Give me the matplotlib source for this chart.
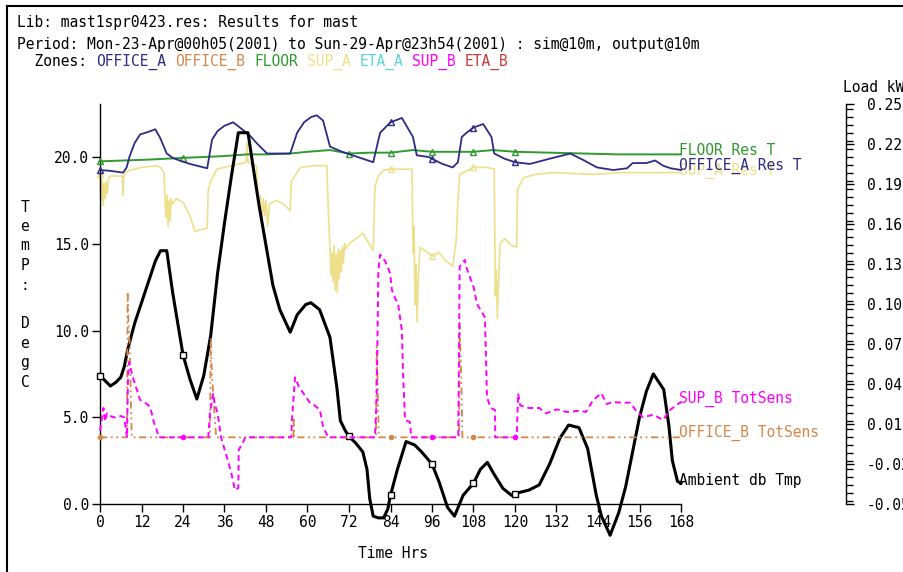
import matplotlib.pyplot as plt
from matplotlib.lines import Line2D
from matplotlib.ticker import MultipleLocator, FixedLocator

W, H = 904, 572
FS = 10.5
CH = 0.602 * FS * 100 / 72  # monospace advance in px

plt.rcParams['font.family'] = 'DejaVu Sans Mono'
plt.rcParams['font.size'] = FS

C_OFFA = '#2c2c86'
C_OFFB = '#d4874a'
C_FLOOR = '#2f9a2f'
C_SUPA = '#eee08a'
C_ETAA = '#5cd6d6'
C_SUPB = '#ff00ff'
C_ETAB = '#c83a3a'

hour_ticks = list(range(0, 169, 12))
temp_ticks = [0.0, 5.0, 10.0, 15.0, 20.0]
load_ticks = [-0.05, -0.02, 0.01, 0.04, 0.07, 0.10, 0.13, 0.16, 0.19, 0.22, 0.25]

# Ambient db temperature (DegC)
amb_t = [0, 1.5, 3, 4.5, 6, 7, 8, 10, 12, 14, 16, 17.5, 19.3, 21, 24, 26, 28, 30, 32, 34,
         36, 38, 40, 42.8, 44.3, 46, 48, 50, 52, 55, 57, 59.5, 61, 63.5, 65, 66.5, 68.5, 69.5, 71, 72,
         74, 76, 77.2, 78, 79, 80.5, 82, 83.2, 84, 86, 88.5, 91, 93, 96, 98, 100.5, 102.5, 105, 108, 110,
         112, 114, 116.5, 119, 120, 124, 127, 130, 133, 135.5, 138.5, 141, 143.5, 145, 147.5, 150, 152, 154, 156, 158,
         160, 163, 164.5, 165.5, 167, 168]
amb_v = [7.4, 7.1, 6.8, 7.0, 7.3, 7.9, 8.9, 10.4, 11.6, 12.8, 14.0, 14.6, 14.6, 12.2, 8.6, 7.2, 6.05, 7.4, 9.7, 13.3,
         16.2, 18.9, 21.4, 21.4, 19.4, 17.2, 14.9, 12.6, 11.2, 9.9, 10.9, 11.5, 11.6, 11.2, 10.4, 9.6, 6.7, 4.8, 4.2, 3.9,
         3.5, 3.0, 2.0, 0.3, -0.7, -0.8, -0.8, -0.3, 0.5, 2.0, 3.6, 3.4, 3.0, 2.3, 1.3, -0.2, -0.7, 0.5, 1.2, 2.0,
         2.4, 1.7, 0.9, 0.5, 0.6, 0.8, 1.1, 2.3, 3.8, 4.55, 4.4, 3.2, 0.5, -0.7, -1.8, -0.5, 1.0, 3.0, 5.0, 6.5,
         7.5, 6.6, 4.5, 2.5, 1.3, 1.2]
amb_marks = [0, 24, 72, 84, 96, 108, 120]

# OFFICE_A resultant temperature
offa_t = [0, 3, 6.7, 7.7, 8.5, 10, 11.6, 14, 16, 17.4, 19.3, 21, 23, 26, 29, 31, 32.4, 34, 36, 38.5,
          41.4, 43.5, 45.3, 48.3, 52, 55, 57, 59, 61, 62.7, 64.5, 66.5, 70, 73, 76, 79, 81, 84, 87.3, 90.5,
          91.6, 95, 96, 99, 102, 103.5, 104.6, 106, 108, 110.8, 113.2, 114, 117, 120, 124.3, 130, 136, 140, 143.7, 148.4,
          152.4, 154, 158, 160.5, 162.8, 165, 168]
offa_v = [19.25, 19.2, 19.1, 19.4, 20.0, 20.8, 21.3, 21.45, 21.6, 21.1, 20.2, 19.95, 19.8, 19.6, 19.45, 19.35, 21.0, 21.5, 21.8, 22.0,
          21.55, 21.2, 20.8, 20.2, 20.2, 20.2, 21.4, 22.0, 22.3, 22.4, 22.1, 20.6, 20.3, 20.1, 19.9, 19.7, 21.4, 22.0, 22.25, 21.15,
          20.1, 20.0, 19.9, 19.6, 19.4, 19.7, 21.15, 21.4, 21.7, 21.9, 21.15, 20.2, 19.9, 19.7, 19.6, 19.9, 20.2, 19.8, 19.4, 19.25,
          19.35, 19.65, 19.65, 19.8, 19.5, 19.35, 19.25]
offa_marks = [0, 84, 96, 108, 120]

# FLOOR resultant temperature
floor_t = [0, 7, 14, 24, 30, 35.6, 42.5, 48, 55, 60, 66.5, 72, 78, 84, 90.5, 96, 102, 108, 113.6, 120,
           130, 140, 150, 160, 168]
floor_v = [19.75, 19.8, 19.85, 19.95, 20.0, 20.05, 20.15, 20.15, 20.2, 20.3, 20.4, 20.2, 20.25, 20.25, 20.4, 20.3, 20.3, 20.3, 20.4, 20.3,
           20.25, 20.2, 20.15, 20.15, 20.15]
floor_marks = [0, 24, 72, 84, 96, 108, 120]

# SUP_A resultant temperature
supa_t = [0, 0.3, 0.6, 0.9, 1.2, 1.5, 1.8, 2.1, 2.5, 3, 6.5, 6.7, 6.9, 7.3, 8, 12, 16.5, 17.5, 18.5, 18.8,
          19.1, 19.4, 19.7, 20.0, 20.3, 20.6, 21, 22, 24, 26, 27.5, 29, 31, 31.3, 32, 33.8, 38, 41.4, 42.2, 42.5,
          42.8, 45.2, 45.6, 46, 46.4, 46.8, 47.2, 47.6, 48, 48.5, 49, 51, 53, 55, 55.3, 56, 58, 62, 65.6, 66,
          66.5, 66.8, 67.1, 67.4, 67.7, 68, 68.3, 68.6, 68.9, 69.2, 69.5, 69.8, 70.1, 70.4, 70.7, 71, 72, 74, 76, 77.5,
          79, 79.5, 80.5, 82, 84, 90.2, 90.5, 90.8, 91.1, 91.4, 91.7, 92, 92.5, 94, 96, 98, 100, 102, 103, 103.5,
          104, 108, 112, 114, 114.3, 114.6, 114.9, 115.2, 115.7, 117, 119, 120.5, 120.7, 122.4, 126, 131, 142.6, 151, 160, 168]
supa_v = [19.0, 17.5, 18.7, 17.2, 18.5, 17.6, 18.6, 17.9, 18.8, 18.9, 18.9, 17.8, 18.9, 19.1, 19.2, 19.4, 19.5, 19.4, 19.1, 17.5,
          16.5, 17.8, 16.0, 17.5, 16.3, 17.6, 17.3, 17.6, 17.4, 16.6, 15.7, 15.8, 15.9, 18.1, 18.6, 19.3, 19.5, 19.65, 19.7, 20.8,
          19.7, 19.5, 18.2, 17.0, 17.8, 16.2, 17.6, 16.6, 17.5, 16.0, 17.3, 17.5, 17.3, 16.9, 18.6, 18.8, 19.4, 19.5, 19.5, 17.0,
          14.8, 13.2, 14.5, 12.8, 14.9, 12.3, 14.4, 12.2, 14.7, 13.0, 14.6, 13.4, 14.8, 13.9, 15.0, 14.7, 15.0, 15.3, 15.6, 15.1,
          14.6, 18.3, 18.9, 19.25, 19.3, 19.3, 14.5, 16.0, 11.5, 13.8, 10.5, 12.8, 14.8, 14.6, 14.3, 14.5, 14.0, 13.7, 15.2, 17.5,
          19.0, 19.4, 19.4, 19.3, 12.0, 13.5, 10.7, 12.5, 15.0, 15.3, 14.9, 14.8, 18.1, 18.8, 19.0, 19.1, 19.0, 19.1, 19.1, 19.1]
supa_marks = [0, 84, 96, 108]

# SUP_B total sensible load (kW)
supb_t = [0, 0.5, 1, 1.5, 2, 3, 4, 5, 6, 7, 7.8, 8.1, 8.4, 9.5, 11.6, 13, 14.5, 15.5, 16.4, 17,
          24, 31.3, 31.8, 32.7, 33.2, 34, 35, 36.7, 38, 39, 40, 40.1, 41.4, 42, 48, 55.3, 55.5, 56.4, 57.5, 58.8,
          60.7, 62, 63.6, 64.5, 66, 72, 79.5, 80, 80.5, 81, 82.5, 83.9, 84.4, 85.2, 86.2, 87.3, 87.6, 88.2, 89.6, 90,
          96, 103.6, 104, 105.5, 106.2, 108, 109, 111.3, 111.9, 113, 114.2, 114.3, 120, 120.5, 120.9, 121.5, 124, 127, 129, 132,
          135, 138.8, 140.5, 142.6, 145, 146.5, 148.4, 151, 153.3, 155, 157, 160, 162.8, 164.8, 167.7, 168]
supb_v = [0.005, 0.013, 0.022, 0.012, 0.018, 0.016, 0.015, 0.015, 0.016, 0.015, 0.0, 0.045, 0.0565, 0.045, 0.028, 0.026, 0.023, 0.012, 0.0055, 0.0,
          0.0, 0.0, 0.018, 0.033, 0.025, 0.018, 0.0, -0.015, -0.027, -0.0395, -0.038, -0.0095, -0.0035, 0.0, 0.0, 0.0, 0.013, 0.045, 0.038, 0.033,
          0.026, 0.024, 0.0205, 0.008, 0.0, 0.0, 0.0, 0.03, 0.1255, 0.137, 0.132, 0.123, 0.1105, 0.105, 0.1, 0.08, 0.05, 0.013, 0.0115, 0.0,
          0.0, 0.0, 0.128, 0.133, 0.1255, 0.113, 0.1, 0.09, 0.03, 0.022, 0.0205, 0.0, 0.0, 0.0, 0.033, 0.024, 0.022, 0.022, 0.018, 0.021,
          0.019, 0.02, 0.019, 0.028, 0.033, 0.025, 0.0265, 0.026, 0.026, 0.02, 0.015, 0.017, 0.013, 0.0205, 0.026, 0.026]
supb_marks = [24, 96, 120]

# OFFICE_B total sensible load (kW)
offb_t = [0, 7.8, 8.0, 8.3, 8.6, 9.0, 9.2, 31.8, 32.0, 32.3, 32.8, 33.3, 33.6, 55.9, 56.0, 56.1, 79.8, 80.0, 80.3, 80.6,
          84, 103.8, 104.0, 104.4, 104.8, 108, 168]
offb_v = [0, 0, 0.109, 0.08, 0.07, 0.02, 0, 0, 0.0745, 0.05, 0.03, 0.01, 0, 0, 0.015, 0, 0, 0.068, 0.04, 0,
          0, 0, 0.086, 0.05, 0, 0, 0]
offb_marks = [0, 84, 108]

header1 = "Lib: mast1spr0423.res: Results for mast"
header2 = "Period: Mon-23-Apr@00h05(2001) to Sun-29-Apr@23h54(2001) : sim@10m, output@10m"
zones = [("  Zones: ", 'black'), ("OFFICE_A", C_OFFA), (" ", 'black'), ("OFFICE_B", C_OFFB), (" ", 'black'),
         ("FLOOR", C_FLOOR), (" ", 'black'), ("SUP_A", C_SUPA), (" ", 'black'), ("ETA_A", C_ETAA), (" ", 'black'),
         ("SUP_B", C_SUPB), (" ", 'black'), ("ETA_B", C_ETAB)]


def fx(px):
    return px / W


def fy(py):
    return 1 - py / H


def idx(ts, marks):
    return [ts.index(m) for m in marks]


fig = plt.figure(figsize=(W / 100, H / 100), dpi=100)
ax = fig.add_axes([fx(100), fy(504), (681 - 100) / W, 400 / H])
ax2 = ax.twinx()

# temperatures
ax.plot(supa_t, supa_v, color=C_SUPA, lw=1.2, clip_on=False, zorder=2,
        marker='^', markevery=idx(supa_t, supa_marks), ms=5, mfc='none', mec=C_SUPA)
ax.plot(floor_t, floor_v, color=C_FLOOR, lw=1.4, clip_on=False, zorder=3,
        marker='^', markevery=idx(floor_t, floor_marks), ms=5, mfc='none', mec=C_FLOOR)
ax.plot(offa_t, offa_v, color=C_OFFA, lw=1.3, clip_on=False, zorder=4,
        marker='^', markevery=idx(offa_t, offa_marks), ms=5, mfc='none', mec=C_OFFA)
ax.plot(amb_t, amb_v, color='black', lw=2.2, clip_on=False, zorder=5,
        marker='s', markevery=idx(amb_t, amb_marks), ms=5, mfc='white', mec='black', mew=1)

# loads
ax2.plot(offb_t, offb_v, color=C_OFFB, lw=1.3, ls=(0, (4, 2, 1, 2, 1, 2)), clip_on=False,
         marker='o', markevery=idx(offb_t, offb_marks), ms=3, mfc=C_OFFB, mec=C_OFFB)
ax2.plot(supb_t, supb_v, color=C_SUPB, lw=1.4, ls=(0, (3, 2)), clip_on=False,
         marker='o', markevery=idx(supb_t, supb_marks), ms=3, mfc=C_SUPB, mec=C_SUPB)

ax.set_xlim(0, 168)
ax.set_ylim(0, 400 / 17.35)
ax2.set_ylim(-0.05, 0.25)

for s in ['top', 'right']:
    ax.spines[s].set_visible(False)
for s in ['top', 'left', 'bottom']:
    ax2.spines[s].set_visible(False)
ax2.spines['right'].set_position(('axes', (846 - 100) / 581))
for sp in [ax.spines['left'], ax.spines['bottom'], ax2.spines['right']]:
    sp.set_linewidth(1.0)

ax.set_xticks(hour_ticks)
ax.set_xticklabels([str(h) for h in hour_ticks])
ax.set_yticks(temp_ticks)
ax.set_yticklabels(['%.1f' % v for v in temp_ticks])
ax.tick_params(direction='out', length=6, width=1.0, pad=2, labelsize=FS)

ax2.yaxis.set_major_locator(FixedLocator(load_ticks))
ax2.set_yticklabels(['%.2f' % v for v in load_ticks])
ax2.yaxis.set_minor_locator(MultipleLocator(0.006))
ax2.tick_params(which='major', direction='out', length=6, width=1.0, pad=9, labelsize=FS)
ax2.tick_params(which='minor', direction='out', length=5, width=1.0)

# series labels at the right end of the lines
fig.text(fx(679), fy(150), "FLOOR Res T", color=C_FLOOR, va='center')
fig.text(fx(679), fy(171), "SUP_A Res T", color=C_SUPA, va='center')
fig.text(fx(679), fy(166), "OFFICE_A Res T", color=C_OFFA, va='center')
fig.text(fx(679), fy(399), "SUP_B TotSens", color=C_SUPB, va='center')
fig.text(fx(679), fy(433), "OFFICE_B TotSens", color=C_OFFB, va='center')
fig.text(fx(679), fy(480), "Ambient db Tmp", color='black', va='center')

# axis titles
fig.text(fx(393), fy(553), "Time Hrs", ha='center', va='center')
fig.text(fx(843), fy(88), "Load kW", va='center')
for i, c in enumerate("TemP: DegC"):
    fig.text(fx(25), fy(207 + 19.5 * i), c, ha='center', va='center')

# header
fig.text(fx(17), fy(22), header1, va='center')
fig.text(fx(17), fy(44), header2, va='center')
n = 0
for txt, col in zones:
    fig.text(fx(17 + n * CH), fy(62), txt, color=col, va='center')
    n += len(txt)

# window frame
fig.add_artist(Line2D([fx(7), 1], [fy(6), fy(6)], color='black', lw=1.5))
fig.add_artist(Line2D([fx(7), fx(7)], [fy(6), 0], color='black', lw=1.5))

fig.savefig('out.png', dpi=100)
